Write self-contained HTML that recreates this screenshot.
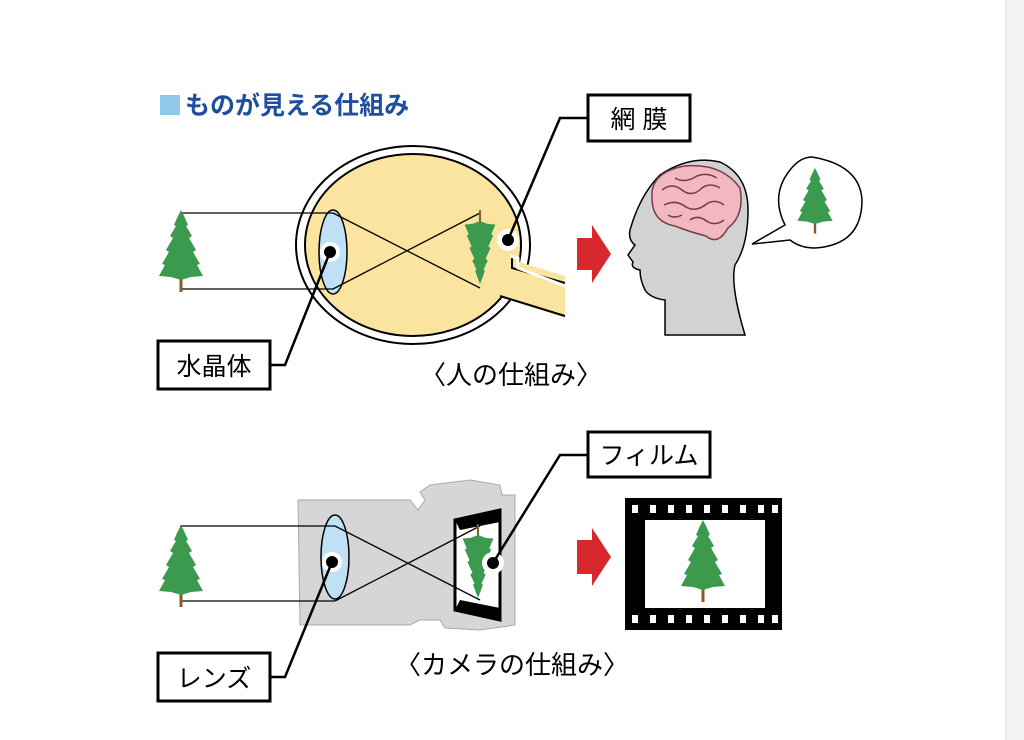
<!DOCTYPE html>
<html><head><meta charset="utf-8"><style>
body{margin:0;background:#fff;width:1024px;height:740px;overflow:hidden}
svg{display:block}
text{font-family:"Liberation Sans","Noto Sans CJK JP",sans-serif}
</style></head><body>
<svg width="1024" height="740" viewBox="0 0 1024 740">
<defs>
<g id="tree">
<rect x="-1.5" y="26" width="3" height="16" fill="#8a5a2a"/>
<path d="M0,-40 L4,-32 L7,-25 L5,-24 L11,-14 L8,-12 L15,0 L12,2 L19,14 L16,15 L22,26 L10,27 L0,30 L-10,27 L-22,26 L-16,15 L-19,14 L-12,2 L-15,0 L-8,-12 L-11,-14 L-5,-24 L-7,-25 L-4,-32 Z" fill="#3c9a4e"/>
</g>
</defs>
<rect x="1006" y="0" width="18" height="740" fill="#f4f4f4"/>
<line x1="1006" y1="0" x2="1006" y2="740" stroke="#e0e0e0"/>
<rect x="160" y="95" width="20" height="20" fill="#8fc9ea"/>
<text x="185" y="114" font-size="25" font-weight="bold" fill="#1f4f9c">ものが見える仕組み</text>

<!-- eye -->
<ellipse cx="413" cy="245" rx="117" ry="99" fill="none" stroke="#000" stroke-width="2"/>
<ellipse cx="413" cy="245" rx="108" ry="91" fill="#fbe4a0" stroke="#000" stroke-width="2"/>
<path d="M506,258 L565,276 L565,318 L497,296 Z" fill="#fbe4a0"/>
<path d="M512,257 L512,268 L565,283 M500,296 L565,316" fill="none" stroke="#000" stroke-width="2"/>
<path d="M510,256 L518,258 L518,268 L565,286" fill="none" stroke="#fff" stroke-width="3"/>
<ellipse cx="333" cy="252" rx="14" ry="42" fill="#bfe0f5" stroke="#000" stroke-width="1.5"/>
<line x1="180" y1="213" x2="333" y2="213" stroke="#000" stroke-width="1.3"/>
<line x1="180" y1="289" x2="333" y2="289" stroke="#000" stroke-width="1.3"/>
<line x1="333" y1="213" x2="480" y2="288" stroke="#000" stroke-width="1.3"/>
<line x1="333" y1="289" x2="480" y2="213" stroke="#000" stroke-width="1.3"/>
<use href="#tree" transform="translate(181,250)"/>
<use href="#tree" transform="translate(480,248) scale(0.7,-0.9)"/>
<circle cx="330" cy="252" r="10" fill="#fff"/><circle cx="330" cy="252" r="6" fill="#000"/>
<polyline points="330,252 285,365 270,365" fill="none" stroke="#000" stroke-width="2.5"/>
<rect x="158" y="341" width="112" height="48" fill="#fff" stroke="#000" stroke-width="3"/>
<text x="214" y="375" font-size="25" text-anchor="middle">水晶体</text>
<circle cx="508" cy="240" r="11" fill="#fff"/><circle cx="508" cy="240" r="6" fill="#000"/>
<polyline points="508,240 560,118 590,118" fill="none" stroke="#000" stroke-width="2.5"/>
<rect x="588" y="95" width="102" height="46" fill="#fff" stroke="#000" stroke-width="3"/>
<text x="639" y="128" font-size="25" text-anchor="middle">網 膜</text>
<path d="M577,238 L592,238 L592,225 L611,254 L592,283 L592,270 L577,270 Z" fill="#d9272e"/>
<!-- head -->
<path d="M665,335 L665,300 Q650,298 645,290 Q640,280 640,270 Q630,268 633,262 L628,255 L635,245 Q628,240 630,230 Q640,195 660,175 Q690,155 720,162 Q748,175 748,210 Q748,245 735,265 Q730,285 745,335 Z" fill="#d2d2d2" stroke="#000" stroke-width="1.5"/>
<path d="M652,198 Q650,172 685,166 Q722,163 740,188 Q745,215 728,228 Q718,246 706,236 Q690,232 675,226 Q652,222 652,198 Z" fill="#f2b8c2" stroke="#7a3a48" stroke-width="1.5"/>
<path d="M662,190 q10,-8 20,0 q10,8 20,-2 q8,-6 18,0 M664,205 q12,-6 22,2 q10,6 22,-4 q8,-4 16,2 M675,178 q10,6 22,-2 q10,-4 20,2 M690,220 q8,-6 18,2 q8,4 16,-2 M668,215 q6,4 14,0" fill="none" stroke="#7a3a48" stroke-width="1.5"/>
<path d="M812,157 Q860,165 862,200 Q862,245 815,248 Q800,248 790,240 L752,244 L785,225 Q770,195 790,170 Q800,157 812,157 Z" fill="#fff" stroke="#000" stroke-width="1.5"/>
<use href="#tree" transform="translate(815,200) scale(0.8)"/>
<text x="420" y="384" font-size="26">〈人の仕組み〉</text>

<!-- camera -->
<path d="M298,500 L410,500 L418,510 L425,500 L420,492 L430,485 L470,480 L500,485 L502,495 L515,495 L515,625 L480,630 L445,628 L440,620 L420,620 L410,625 L300,625 Z" fill="#d6d6d6" stroke="#aaa" stroke-width="1"/>
<path d="M455,520 L500,510 L500,620 L455,610 Z" fill="#fff" stroke="#000" stroke-width="3"/>
<path d="M455,520 L500,510 L500,522 L460,530 Z M455,610 L500,620 L500,608 L460,600 Z" fill="#000"/>
<ellipse cx="335" cy="557" rx="14" ry="42" fill="#bfe0f5" stroke="#000" stroke-width="1.5"/>
<line x1="180" y1="526" x2="335" y2="526" stroke="#000" stroke-width="1.3"/>
<line x1="180" y1="601" x2="335" y2="601" stroke="#000" stroke-width="1.3"/>
<line x1="335" y1="526" x2="480" y2="600" stroke="#000" stroke-width="1.3"/>
<line x1="335" y1="601" x2="480" y2="526" stroke="#000" stroke-width="1.3"/>
<use href="#tree" transform="translate(181,565)"/>
<use href="#tree" transform="translate(478,562) scale(0.7,-0.9)"/>
<circle cx="332" cy="562" r="10" fill="#fff"/><circle cx="332" cy="562" r="6" fill="#000"/>
<polyline points="332,562 285,677 270,677" fill="none" stroke="#000" stroke-width="2.5"/>
<rect x="158" y="653" width="112" height="48" fill="#fff" stroke="#000" stroke-width="3"/>
<text x="214" y="687" font-size="25" text-anchor="middle">レンズ</text>
<circle cx="493" cy="563" r="11" fill="#fff"/><circle cx="493" cy="563" r="6" fill="#000"/>
<polyline points="493,563 560,455 590,455" fill="none" stroke="#000" stroke-width="2.5"/>
<rect x="588" y="432" width="122" height="45" fill="#fff" stroke="#000" stroke-width="3"/>
<text x="649" y="464" font-size="25" text-anchor="middle">フィルム</text>
<path d="M577,540 L592,540 L592,528 L611,557 L592,586 L592,574 L577,574 Z" fill="#d9272e"/>
<rect x="625" y="498" width="157" height="132" fill="#000"/>
<rect x="645" y="520" width="120" height="88" fill="#fff"/>
<g fill="#fff">
<rect x="632" y="505" width="6" height="8"/><rect x="650" y="505" width="6" height="8"/><rect x="668" y="505" width="6" height="8"/><rect x="686" y="505" width="6" height="8"/><rect x="704" y="505" width="6" height="8"/><rect x="722" y="505" width="6" height="8"/><rect x="740" y="505" width="6" height="8"/><rect x="758" y="505" width="6" height="8"/><rect x="772" y="505" width="6" height="8"/>
<rect x="632" y="615" width="6" height="8"/><rect x="650" y="615" width="6" height="8"/><rect x="668" y="615" width="6" height="8"/><rect x="686" y="615" width="6" height="8"/><rect x="704" y="615" width="6" height="8"/><rect x="722" y="615" width="6" height="8"/><rect x="740" y="615" width="6" height="8"/><rect x="758" y="615" width="6" height="8"/><rect x="772" y="615" width="6" height="8"/>
</g>
<use href="#tree" transform="translate(703,560)"/>
<text x="395" y="674" font-size="26">〈カメラの仕組み〉</text>
</svg>
</body></html>
